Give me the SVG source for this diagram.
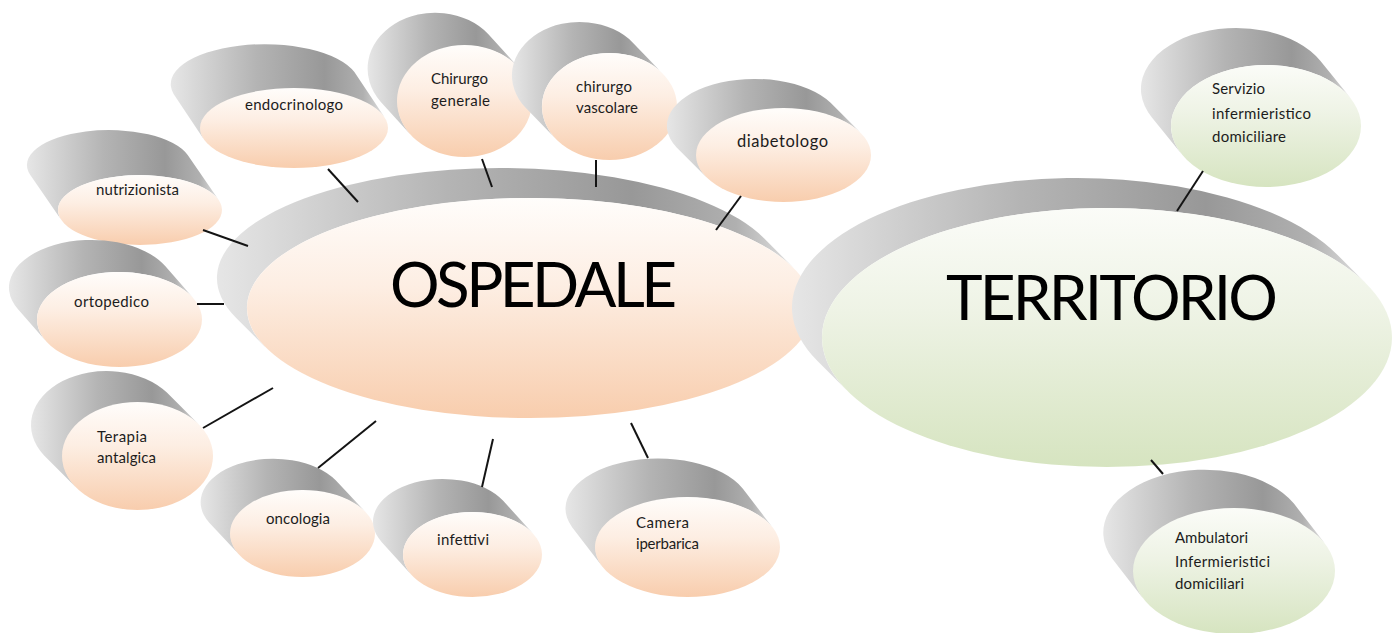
<svg xmlns="http://www.w3.org/2000/svg" width="1392" height="633" viewBox="0 0 1392 633">
<defs>
<linearGradient id="gGray" x1="0" y1="0" x2="1" y2="0">
<stop offset="0" stop-color="#e6e6e6"/>
<stop offset="0.4" stop-color="#b4b4b4"/>
<stop offset="0.72" stop-color="#989898"/>
<stop offset="0.9" stop-color="#b0b0b0"/>
<stop offset="1" stop-color="#e2e2e2"/>
</linearGradient>
<linearGradient id="gPeach" x1="0" y1="0" x2="0" y2="1">
<stop offset="0" stop-color="#fffdfb"/>
<stop offset="0.4" stop-color="#fdeee3"/>
<stop offset="1" stop-color="#f8cdad"/>
</linearGradient>
<linearGradient id="gGreen" x1="0" y1="0" x2="0" y2="1">
<stop offset="0" stop-color="#fbfcf8"/>
<stop offset="0.4" stop-color="#eef3e5"/>
<stop offset="1" stop-color="#d6e4c0"/>
</linearGradient>
</defs>
<style>
.ext{fill:url(#gGray)}
.peach{fill:url(#gPeach)}
.green{fill:url(#gGreen)}
.lbl{font-family:Lato,"Liberation Sans",sans-serif;font-size:15px;fill:#1c1c1c}
.big{font-family:Lato,"Liberation Sans",sans-serif;font-size:62px;fill:#000}
.conn line{stroke:#141414;stroke-width:2}
</style>
<rect width="1392" height="633" fill="#fff"/>

<g id="ospedale">
<path class="ext" d="M266.2,347.9 L236.2,317.9 A283,110 0 0 1 763.8,238.1 L793.8,268.1 A283,110 0 0 0 266.2,347.9 Z"/>
<ellipse class="peach" cx="530" cy="308" rx="283" ry="110"/>
<text class="big" x="390" y="307" textLength="287">OSPEDALE</text>
</g>

<g id="territorio">
<path class="ext" d="M847.5,391.1 L817.5,361.1 A285,129.5 0 0 1 1336.5,253.9 L1366.5,283.9 A285,129.5 0 0 0 847.5,391.1 Z"/>
<ellipse class="green" cx="1107" cy="337.5" rx="285" ry="129.5"/>
<text class="big" x="946" y="320" textLength="332">TERRITORIO</text>
</g>

<g id="nutrizionista">
<path class="ext" d="M61.3,219.9 L30.3,174.9 A82,35 0 0 1 187.7,155.1 L218.7,200.1 A82,35 0 0 0 61.3,219.9 Z"/>
<ellipse class="peach" cx="140" cy="210" rx="82" ry="35"/>
<text class="lbl" x="96" y="195" textLength="83">nutrizionista</text>
</g>

<g id="ortopedico">
<path class="ext" d="M45.8,340.9 L17.8,308.9 A82.5,47.5 0 0 1 165.2,266.1 L193.2,298.1 A82.5,47.5 0 0 0 45.8,340.9 Z"/>
<ellipse class="peach" cx="119.5" cy="319.5" rx="82.5" ry="47.5"/>
<text class="lbl" x="74" y="307" textLength="75">ortopedico</text>
</g>

<g id="terapia">
<path class="ext" d="M76.1,487.4 L44.1,455.4 A75.5,54 0 0 1 166.9,392.6 L198.9,424.6 A75.5,54 0 0 0 76.1,487.4 Z"/>
<ellipse class="peach" cx="137.5" cy="456" rx="75.5" ry="54"/>
<text class="lbl" x="97" y="442" textLength="50">Terapia</text>
<text class="lbl" x="97" y="463" textLength="59">antalgica</text>
</g>

<g id="oncologia">
<path class="ext" d="M239.3,554.8 L209.3,522.8 A72.5,43.5 0 0 1 335.7,480.2 L365.7,512.2 A72.5,43.5 0 0 0 239.3,554.8 Z"/>
<ellipse class="peach" cx="302.5" cy="533.5" rx="72.5" ry="43.5"/>
<text class="lbl" x="266" y="524" textLength="64">oncologia</text>
</g>

<g id="infettivi">
<path class="ext" d="M411.8,575.2 L381.8,542.2 A69.5,42.5 0 0 1 503.2,500.8 L533.2,533.8 A69.5,42.5 0 0 0 411.8,575.2 Z"/>
<ellipse class="peach" cx="472.5" cy="554.5" rx="69.5" ry="42.5"/>
<text class="lbl" x="437" y="545" textLength="52">infettivi</text>
</g>

<g id="camera">
<path class="ext" d="M602.1,566.2 L572.1,527.2 A92.5,50 0 0 1 742.9,488.8 L772.9,527.8 A92.5,50 0 0 0 602.1,566.2 Z"/>
<ellipse class="peach" cx="687.5" cy="547" rx="92.5" ry="50"/>
<text class="lbl" x="636" y="528" textLength="53">Camera</text>
<text class="lbl" x="636" y="549" textLength="63">iperbarica</text>
</g>

<g id="endocrinologo">
<path class="ext" d="M203.6,138.9 L173.6,93.9 A94,40 0 0 1 354.4,72.1 L384.4,117.1 A94,40 0 0 0 203.6,138.9 Z"/>
<ellipse class="peach" cx="294" cy="128" rx="94" ry="40"/>
<text class="lbl" x="245" y="110" textLength="98">endocrinologo</text>
</g>

<g id="chirurgo-generale">
<path class="ext" d="M410.6,134.7 L380.6,101.7 A67.5,56 0 0 1 488.4,34.3 L518.4,67.3 A67.5,56 0 0 0 410.6,134.7 Z"/>
<ellipse class="peach" cx="464.5" cy="101" rx="67.5" ry="56"/>
<text class="lbl" x="431" y="84" textLength="57">Chirurgo</text>
<text class="lbl" x="431" y="106" textLength="59">generale</text>
</g>

<g id="chirurgo-vascolare">
<path class="ext" d="M555.9,139.1 L525.9,108.1 A67.5,53.5 0 0 1 633.1,42.9 L663.1,73.9 A67.5,53.5 0 0 0 555.9,139.1 Z"/>
<ellipse class="peach" cx="609.5" cy="106.5" rx="67.5" ry="53.5"/>
<text class="lbl" x="576" y="92" textLength="56">chirurgo</text>
<text class="lbl" x="576" y="113" textLength="62">vascolare</text>
</g>

<g id="diabetologo">
<path class="ext" d="M706.4,177.2 L676.4,147.2 A87.5,47 0 0 1 830.6,102.8 L860.6,132.8 A87.5,47 0 0 0 706.4,177.2 Z"/>
<ellipse class="peach" cx="783.5" cy="155" rx="87.5" ry="47"/>
<text class="lbl" x="737" y="147" textLength="91" style="font-size:16.5px">diabetologo</text>
</g>

<g id="servizio">
<path class="ext" d="M1181.7,154.2 L1151.7,117.2 A95,61 0 0 1 1320.3,60.8 L1350.3,97.8 A95,61 0 0 0 1181.7,154.2 Z"/>
<ellipse class="green" cx="1266" cy="126" rx="95" ry="61"/>
<text class="lbl" x="1212" y="94" textLength="53">Servizio</text>
<text class="lbl" x="1212" y="119" textLength="99">infermieristico</text>
<text class="lbl" x="1212" y="142" textLength="74">domiciliare</text>
</g>

<g id="ambulatori">
<path class="ext" d="M1143.1,598.4 L1112.1,558.4 A101,63 0 0 1 1293.9,503.6 L1324.9,543.6 A101,63 0 0 0 1143.1,598.4 Z"/>
<ellipse class="green" cx="1234" cy="571" rx="101" ry="63"/>
<text class="lbl" x="1175" y="543" textLength="73">Ambulatori</text>
<text class="lbl" x="1175" y="567" textLength="95">Infermieristici</text>
<text class="lbl" x="1175" y="589" textLength="69">domiciliari</text>
</g>

<g id="connectors" class="conn">
<line x1="328" y1="169" x2="358" y2="202"/>
<line x1="203" y1="230" x2="248" y2="246"/>
<line x1="197" y1="304" x2="224" y2="304"/>
<line x1="203" y1="428" x2="273" y2="388"/>
<line x1="318" y1="468" x2="376" y2="421"/>
<line x1="482" y1="487" x2="493" y2="439"/>
<line x1="648" y1="458" x2="631" y2="423"/>
<line x1="482" y1="159" x2="492" y2="187"/>
<line x1="596" y1="160" x2="596" y2="187"/>
<line x1="741" y1="196" x2="716" y2="230"/>
<line x1="1203" y1="171" x2="1177" y2="211"/>
<line x1="1151" y1="460" x2="1163" y2="474"/>
</g>
</svg>
